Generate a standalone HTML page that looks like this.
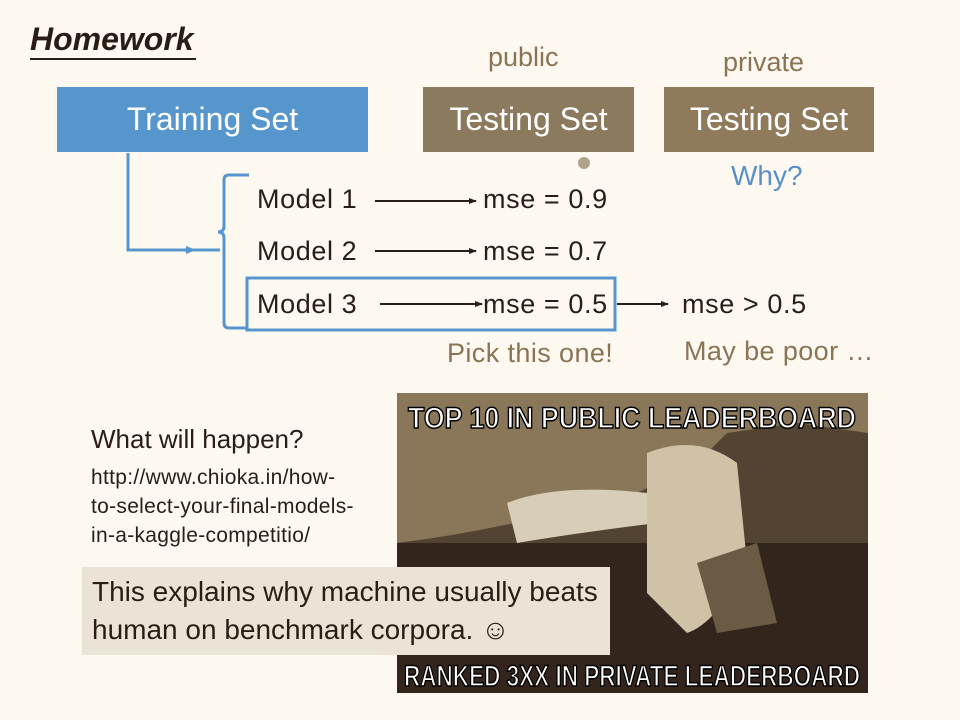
<!DOCTYPE html>
<html><head><meta charset="utf-8"><style>
body{margin:0;width:960px;height:720px;background:#fdf9f1;position:relative;overflow:hidden;font-family:"Liberation Sans",sans-serif;color:#2a1d14}
.a{position:absolute;white-space:nowrap}
.box{position:absolute;color:#fff;font-size:32px;text-align:center}
.m{font-size:27px;letter-spacing:0.6px}
.br{color:#8b7355}
</style></head><body>
<div class="a" style="left:30px;top:20px;font-size:32px;font-weight:bold;font-style:italic;border-bottom:2px solid #2a1d14;line-height:38px;padding-right:2px">Homework</div>
<div class="a br" style="left:488px;top:42px;font-size:27px">public</div>
<div class="a br" style="left:723px;top:47px;font-size:27px">private</div>
<div class="box" style="left:57px;top:87px;width:311px;height:65px;line-height:65px;background:#5696cd">Training Set</div>
<div class="box" style="left:423px;top:87px;width:211px;height:65px;line-height:65px;background:#8b7a5e">Testing Set</div>
<div class="box" style="left:664px;top:87px;width:210px;height:65px;line-height:65px;background:#8f7a5c">Testing Set</div>
<div class="a" style="left:731px;top:160px;font-size:28px;color:#5b8fc9">Why?</div>
<div class="a" style="left:578px;top:157px;width:12px;height:12px;border-radius:50%;background:#b0a28a"></div>
<svg class="a" style="left:0;top:0" width="960" height="720">
<defs><marker id="ah" markerWidth="8" markerHeight="8" refX="7" refY="4" orient="auto" markerUnits="userSpaceOnUse"><path d="M0,1 L8,4 L0,7z" fill="#2a1d14"/></marker>
<marker id="bh" markerWidth="12" markerHeight="12" refX="6" refY="6" orient="auto" markerUnits="userSpaceOnUse"><path d="M0,2 L10,6 L0,10z" fill="#5696cd"/></marker></defs>
<path d="M128,153 V250 H220" stroke="#5696cd" stroke-width="3" fill="none"/>
<path d="M180,250 L192,250" stroke="#5696cd" stroke-width="3" marker-end="url(#bh)"/>
<path d="M249,175 H229 Q224,175 224,180 V226 Q224,232 218,232 Q224,232 224,238 V323 Q224,328 229,328 H248" stroke="#5696cd" stroke-width="3" fill="none"/>
<rect x="247" y="278" width="368" height="52" fill="none" stroke="#5696cd" stroke-width="3"/>
<g stroke="#2a1d14" stroke-width="2">
<line x1="375" y1="201" x2="476" y2="201" marker-end="url(#ah)"/>
<line x1="375" y1="251" x2="476" y2="251" marker-end="url(#ah)"/>
<line x1="380" y1="304" x2="482" y2="304" marker-end="url(#ah)"/>
<line x1="617" y1="304" x2="668" y2="304" marker-end="url(#ah)"/>
</g>
</svg>
<div class="a m" style="left:257px;top:184px">Model 1</div>
<div class="a m" style="left:257px;top:236px">Model 2</div>
<div class="a m" style="left:257px;top:289px">Model 3</div>
<div class="a m" style="left:483px;top:184px">mse = 0.9</div>
<div class="a m" style="left:483px;top:236px">mse = 0.7</div>
<div class="a m" style="left:483px;top:289px">mse = 0.5</div>
<div class="a m" style="left:682px;top:289px">mse &gt; 0.5</div>
<div class="a br" style="left:447px;top:338px;font-size:27px;letter-spacing:0.4px">Pick this one!</div>
<div class="a br" style="left:684px;top:336px;font-size:27px;letter-spacing:0.4px">May be poor …</div>
<div class="a" style="left:91px;top:424px;font-size:26px">What will happen?</div>
<div class="a" style="left:91px;top:463px;font-size:21px;line-height:29px;letter-spacing:0.3px">http://www.chioka.in/how-<br>to-select-your-final-models-<br>in-a-kaggle-competitio/</div>
<svg class="a" style="left:397px;top:393px" width="471" height="303">
<rect width="471" height="303" fill="#8a7658"/>
<rect x="0" y="150" width="471" height="153" fill="#3b2b1f"/>
<path d="M0,150 Q80,140 160,120 L240,100 L300,70 L330,40 L400,30 L471,40 V303 H0z" fill="#2e2119" opacity="0.6"/>
<path d="M110,110 Q160,90 250,100 L260,130 Q180,140 120,150z" fill="#d8cdb6"/>
<path d="M250,60 Q300,40 340,70 L350,170 Q320,230 290,240 L250,200z" fill="#cfc2a6"/>
<path d="M300,170 L360,150 L380,230 L320,240z" fill="#6b5a44"/>
<rect x="0" y="300" width="471" height="3" fill="#fdf9f1"/>
<text x="235" y="35" text-anchor="middle" font-family="Liberation Sans" font-weight="bold" font-size="30" fill="#fff" stroke="#000" stroke-width="1.5" textLength="448" lengthAdjust="spacingAndGlyphs">TOP 10 IN PUBLIC LEADERBOARD</text>
<text x="235" y="293" text-anchor="middle" font-family="Liberation Sans" font-weight="bold" font-size="30" fill="#fff" stroke="#000" stroke-width="1.5" textLength="456" lengthAdjust="spacingAndGlyphs">RANKED 3XX IN PRIVATE LEADERBOARD</text>
</svg>
<div class="a" style="left:82px;top:567px;width:528px;height:88px;background:#ebe4d6"></div>
<div class="a" style="left:92px;top:573px;font-size:28px;line-height:38px">This explains why machine usually beats<br>human on benchmark corpora. ☺</div>
</body></html>
